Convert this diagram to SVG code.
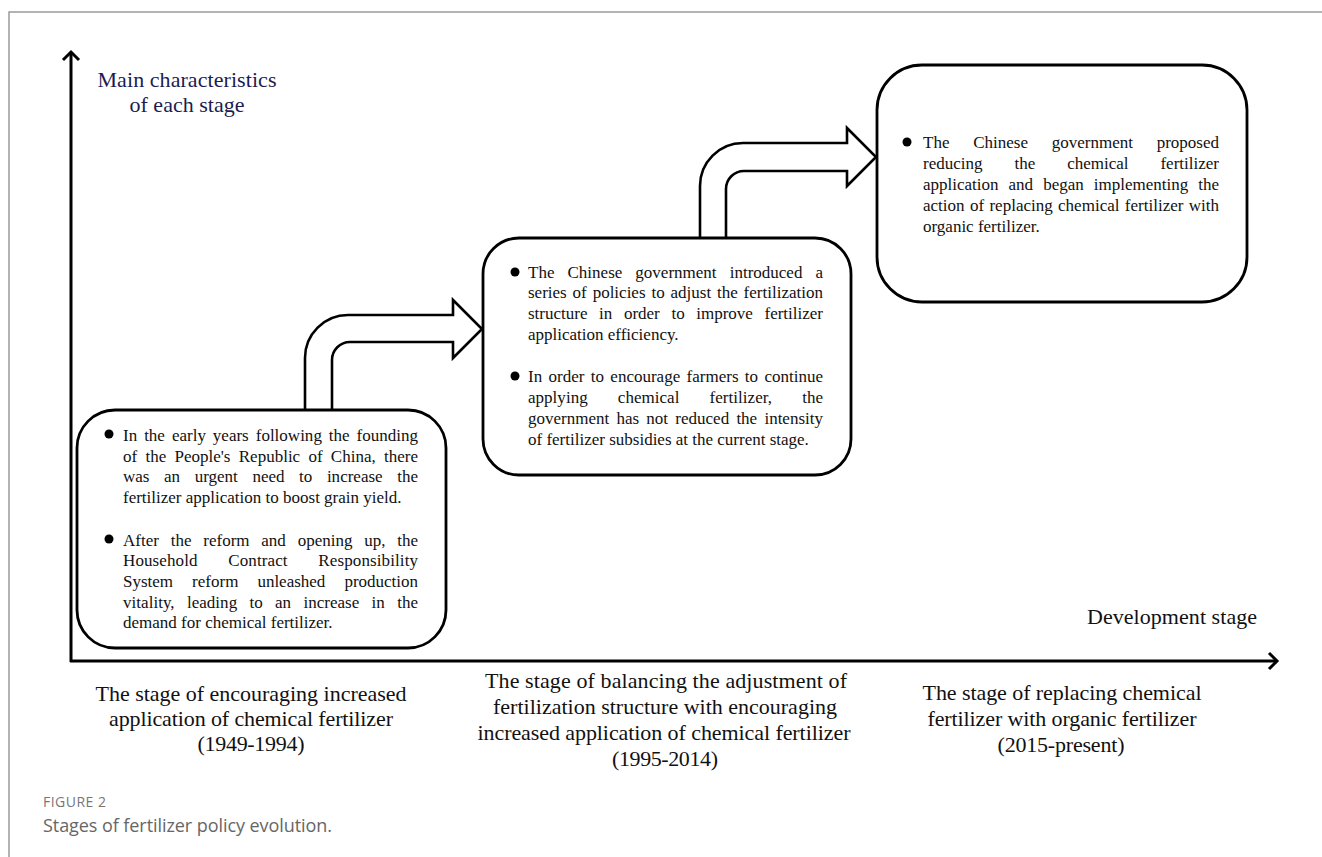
<svg xmlns="http://www.w3.org/2000/svg" width="1322" height="857" viewBox="0 0 1322 857">
  <defs>
    <style>
      .frame { fill: none; stroke: #9a9a9a; stroke-width: 1.5; }
      .axis { fill: none; stroke: #000; stroke-width: 3; }
      .box { fill: #fff; stroke: #000; stroke-width: 2.8; }
      .bend { fill: #fff; stroke: #000; stroke-width: 2.6; stroke-linejoin: miter; }
      .body { font-family: "Liberation Serif", "Times New Roman", serif; font-size: 17px; fill: #111; }
      .stage { font-family: "Liberation Serif", "Times New Roman", serif; font-size: 22px; fill: #111; text-anchor: middle; }
      .ylab { font-family: "Liberation Serif", "Times New Roman", serif; font-size: 22px; fill: #1c1c52; text-anchor: middle; }
      .xlab { font-family: "Liberation Serif", "Times New Roman", serif; font-size: 22px; fill: #111; }
      .bullet { fill: #000; }
      .fig { font-family: "Open Sans", "Noto Sans", sans-serif; font-size: 14px; fill: #777; }
      .cap { font-family: "Open Sans", "Noto Sans", sans-serif; font-size: 18px; fill: #666; }
    </style>
    <marker id="axisHead" viewBox="-12 -12 24 24" markerWidth="24" markerHeight="24" refX="0" refY="0" orient="auto" markerUnits="userSpaceOnUse">
      <path d="M-8,-8 L0,0 L-8,8" fill="none" stroke="#000" stroke-width="3"/>
    </marker>
  </defs>

  <rect width="1322" height="857" fill="#fff"/>

  <!-- page frame -->
  <path class="frame" d="M9,857 L9,12 L1322,12"/>

  <!-- axes -->
  <g id="axes">
    <line class="axis" x1="71" y1="662" x2="71" y2="52" marker-end="url(#axisHead)"/>
    <line class="axis" x1="70" y1="661" x2="1277" y2="661" marker-end="url(#axisHead)"/>
    <text class="ylab" x="187" y="87" textLength="179" lengthAdjust="spacing">Main characteristics</text>
    <text class="ylab" x="187" y="112" textLength="115" lengthAdjust="spacing">of each stage</text>
    <text class="xlab" x="1087" y="624" textLength="170" lengthAdjust="spacing">Development stage</text>
  </g>

  <!-- bent block arrows between stages -->
  <g id="connectors">
    <path class="bend" d="M305,410 L305,358 A43,43 0 0 1 348,315 L453,315 L453,300 L482,329 L453,358 L453,342 L350,342 A18,18 0 0 0 332,360 L332,410"/>
    <path class="bend" d="M700,238 L700,186 A43,43 0 0 1 743,143 L847,143 L847,128 L876,157 L847,186 L847,171 L744,171 A18,18 0 0 0 726,189 L726,238"/>
  </g>

  <!-- stage 1 -->
  <g id="box1">
    <rect class="box" x="77" y="410" width="369" height="238" rx="38" ry="38"/>
    <circle class="bullet" cx="109" cy="434" r="4.5"/>
    <text class="body" x="123" y="441" word-spacing="2.7" textLength="295" lengthAdjust="spacing">In the early years following the founding</text>
    <text class="body" x="123" y="462" word-spacing="4.0" textLength="295" lengthAdjust="spacing">of the People's Republic of China, there</text>
    <text class="body" x="123" y="482" word-spacing="10.3" textLength="295" lengthAdjust="spacing">was an urgent need to increase the</text>
    <text class="body" x="123" y="503">fertilizer application to boost grain yield.</text>
    <circle class="bullet" cx="109" cy="539" r="4.5"/>
    <text class="body" x="123" y="546" word-spacing="7.5" textLength="295" lengthAdjust="spacing">After the reform and opening up, the</text>
    <text class="body" x="123" y="566" word-spacing="26.3" textLength="295" lengthAdjust="spacing">Household Contract Responsibility</text>
    <text class="body" x="123" y="587" word-spacing="14.8" textLength="295" lengthAdjust="spacing">System reform unleashed production</text>
    <text class="body" x="123" y="608" word-spacing="8.0" textLength="295" lengthAdjust="spacing">vitality, leading to an increase in the</text>
    <text class="body" x="123" y="628">demand for chemical fertilizer.</text>
  </g>

  <!-- stage 2 -->
  <g id="box2">
    <rect class="box" x="483" y="238" width="368" height="237" rx="36" ry="36"/>
    <circle class="bullet" cx="515" cy="272" r="4.5"/>
    <text class="body" x="528" y="278" word-spacing="8.8" textLength="295" lengthAdjust="spacing">The Chinese government introduced a</text>
    <text class="body" x="528" y="298" word-spacing="1.6" textLength="295" lengthAdjust="spacing">series of policies to adjust the fertilization</text>
    <text class="body" x="528" y="319" word-spacing="7.4" textLength="295" lengthAdjust="spacing">structure in order to improve fertilizer</text>
    <text class="body" x="528" y="340">application efficiency.</text>
    <circle class="bullet" cx="515" cy="376" r="4.5"/>
    <text class="body" x="528" y="382" word-spacing="2.1" textLength="295" lengthAdjust="spacing">In order to encourage farmers to continue</text>
    <text class="body" x="528" y="403" word-spacing="25.9" textLength="295" lengthAdjust="spacing">applying chemical fertilizer, the</text>
    <text class="body" x="528" y="424" word-spacing="3.0" textLength="295" lengthAdjust="spacing">government has not reduced the intensity</text>
    <text class="body" x="528" y="445">of fertilizer subsidies at the current stage.</text>
  </g>

  <!-- stage 3 -->
  <g id="box3">
    <rect class="box" x="877" y="65" width="370" height="237" rx="45" ry="45"/>
    <circle class="bullet" cx="907" cy="142" r="4.5"/>
    <text class="body" x="923" y="148" word-spacing="19.5" textLength="296" lengthAdjust="spacing">The Chinese government proposed</text>
    <text class="body" x="923" y="169" word-spacing="27.7" textLength="296" lengthAdjust="spacing">reducing the chemical fertilizer</text>
    <text class="body" x="923" y="190" word-spacing="5.8" textLength="296" lengthAdjust="spacing">application and began implementing the</text>
    <text class="body" x="923" y="211" word-spacing="1.1" textLength="296" lengthAdjust="spacing">action of replacing chemical fertilizer with</text>
    <text class="body" x="923" y="232">organic fertilizer.</text>
  </g>

  <!-- stage names under the time axis -->
  <g id="stage-labels">
    <text class="stage" x="251" y="701" textLength="311" lengthAdjust="spacing">The stage of encouraging increased</text>
    <text class="stage" x="251" y="726" textLength="284" lengthAdjust="spacing">application of chemical fertilizer</text>
    <text class="stage" x="251" y="751" textLength="107" lengthAdjust="spacing">(1949-1994)</text>

    <text class="stage" x="666" y="688" textLength="362" lengthAdjust="spacing">The stage of balancing the adjustment of</text>
    <text class="stage" x="665" y="714" textLength="344" lengthAdjust="spacing">fertilization structure with encouraging</text>
    <text class="stage" x="664" y="740" textLength="373" lengthAdjust="spacing">increased application of chemical fertilizer</text>
    <text class="stage" x="665" y="766" textLength="106" lengthAdjust="spacing">(1995-2014)</text>

    <text class="stage" x="1062" y="700" textLength="279" lengthAdjust="spacing">The stage of replacing chemical</text>
    <text class="stage" x="1062" y="726" textLength="269" lengthAdjust="spacing">fertilizer with organic fertilizer</text>
    <text class="stage" x="1061" y="752" textLength="127" lengthAdjust="spacing">(2015-present)</text>
  </g>

  <!-- caption -->
  <text class="fig" x="43" y="807" textLength="63" lengthAdjust="spacing">FIGURE 2</text>
  <text class="cap" x="43" y="832" textLength="289" lengthAdjust="spacing">Stages of fertilizer policy evolution.</text>
</svg>
